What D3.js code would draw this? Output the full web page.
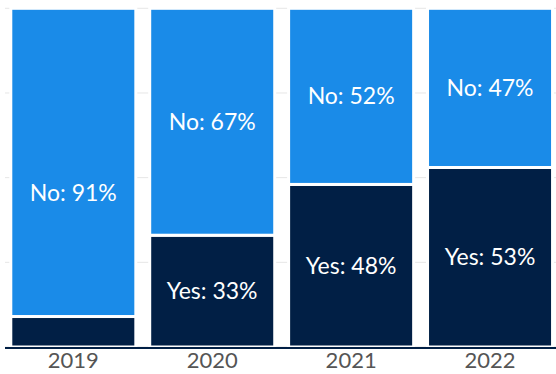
<!DOCTYPE html>
<html><head><meta charset="utf-8">
<script src="https://cdn.jsdelivr.net/npm/d3@7"></script>
<style>html,body{margin:0;padding:0;background:#fff}svg{display:block}</style>
</head><body><svg id="c" width="556" height="374"></svg>
<script>
const years = ["2019", "2020", "2021", "2022"];
const yesValues = [9, 33, 48, 53];
const noValues = [91, 67, 52, 47];
const yesLabels = [null, "Yes: 33%", "Yes: 48%", "Yes: 53%"];
const noLabels = ["No: 91%", "No: 67%", "No: 52%", "No: 47%"];
const gridTicks = [0, 25, 50, 75, 100];

const W = 556, H = 374;
const svg = d3.select("#c");
const x = d3.scaleBand().domain(years).range([3.85, 559.5]).paddingInner(0.1).paddingOuter(0.05);
const y = d3.scaleLinear().domain([0, 100]).range([347, 8.3]);

// gridlines
svg.append("g").selectAll("line").data(gridTicks).join("line")
  .attr("x1", 5).attr("x2", W).attr("y1", d => y(d)).attr("y2", d => y(d))
  .attr("stroke", "#e6e6e6").attr("stroke-width", 1);

const yesColor = "#011f45", noColor = "#1a8be8";
const rows = years.map((yr, i) => ({yr, yes: yesValues[i], no: noValues[i], yl: yesLabels[i], nl: noLabels[i]}));

const g = svg.append("g");
g.selectAll("rect.yes").data(rows).join("rect").attr("class", "yes")
  .attr("x", d => x(d.yr)).attr("width", x.bandwidth())
  .attr("y", d => y(d.yes)).attr("height", d => y(0) - y(d.yes))
  .attr("fill", yesColor).attr("stroke", "#fff").attr("stroke-width", 3);
g.selectAll("rect.no").data(rows).join("rect").attr("class", "no")
  .attr("x", d => x(d.yr)).attr("width", x.bandwidth())
  .attr("y", d => y(d.yes + d.no)).attr("height", d => y(d.yes) - y(d.yes + d.no))
  .attr("fill", noColor).attr("stroke", "#fff").attr("stroke-width", 3);

// axis
const axis = svg.append("g").attr("transform", `translate(0,${y(0) + 1})`)
  .call(d3.axisBottom(x).tickSize(0).tickPadding(4));
axis.select(".domain").attr("d", `M5,0H${W}`).attr("stroke", "#011f45").attr("stroke-width", 2);
axis.selectAll("text").attr("font-family", "Lato").attr("font-size", 22).attr("fill", "#555");

// labels (stacked over labelled segments only)
const lab = svg.append("g").attr("font-family", "Lato").attr("font-size", 23)
  .attr("fill", "#fff").attr("text-anchor", "middle");
rows.forEach(d => {
  let base = 0;
  if (d.yl) {
    lab.append("text").attr("x", x(d.yr) + x.bandwidth() / 2).attr("y", y(d.yes / 2))
      .attr("dy", "0.35em").text(d.yl);
    base = d.yes;
  }
  lab.append("text").attr("x", x(d.yr) + x.bandwidth() / 2).attr("y", y(base + d.no / 2))
    .attr("dy", "0.35em").text(d.nl);
});
</script></body></html>
